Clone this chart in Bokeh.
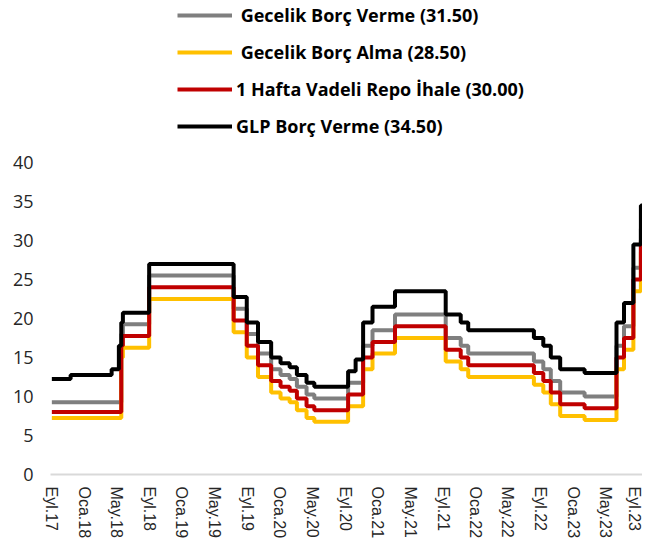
import pandas as pd
from bokeh.plotting import figure
from bokeh.layouts import column
from bokeh.models import Range1d, FixedTicker, Legend, LegendItem
from bokeh.embed import file_html
from bokeh.resources import INLINE

# ---- data (policy-rate step changes) ----
dates = ["2017-09-15", "2017-11-24", "2018-04-26", "2018-05-23", "2018-06-01",
         "2018-06-07", "2018-09-13", "2019-07-25", "2019-09-12", "2019-10-24",
         "2019-12-12", "2020-01-16", "2020-02-19", "2020-03-17", "2020-04-22",
         "2020-05-21", "2020-09-24", "2020-10-22", "2020-11-19", "2020-12-24",
         "2021-03-18", "2021-09-23", "2021-11-18", "2021-12-16", "2022-08-18",
         "2022-09-22", "2022-10-20", "2022-11-24", "2023-02-23", "2023-06-22",
         "2023-07-20", "2023-08-24", "2023-09-21", "2023-09-26"]

gecelik_borc_verme = [9.25, 9.25, 9.25, 9.25, 18.00, 19.25, 25.50, 21.25, 18.00, 15.50,
                      13.50, 12.75, 12.25, 11.25, 10.25, 9.75, 11.75, 11.75, 16.50, 18.50,
                      20.50, 17.50, 16.50, 15.50, 14.50, 13.50, 12.00, 10.50, 10.00, 16.50,
                      19.00, 26.50, 31.50, 31.50]

gecelik_borc_alma = [7.25, 7.25, 7.25, 7.25, 15.00, 16.25, 22.50, 18.25, 15.00, 12.50,
                     10.50, 9.75, 9.25, 8.25, 7.25, 6.75, 8.75, 8.75, 13.50, 15.50,
                     17.50, 14.50, 13.50, 12.50, 11.50, 10.50, 9.00, 7.50, 7.00, 13.50,
                     16.00, 23.50, 28.50, 28.50]

repo_ihale = [8.00, 8.00, 8.00, 8.00, 16.50, 17.75, 24.00, 19.75, 16.50, 14.00,
              12.00, 11.25, 10.75, 9.75, 8.75, 8.25, 10.25, 10.25, 15.00, 17.00,
              19.00, 16.00, 15.00, 14.00, 13.00, 12.00, 10.50, 9.00, 8.50, 15.00,
              17.50, 25.00, 30.00, 30.00]

glp_borc_verme = [12.25, 12.75, 13.50, 16.50, 19.50, 20.75, 27.00, 22.75, 19.50, 17.00,
                  15.00, 14.25, 13.75, 12.75, 11.75, 11.25, 13.25, 14.75, 19.50, 21.50,
                  23.50, 20.50, 19.50, 18.50, 17.50, 16.50, 15.00, 13.50, 13.00, 19.50,
                  22.00, 29.50, 34.50, 34.50]

series_names = ["\u00a0Gecelik Borç Verme (31.50)", "\u00a0Gecelik Borç Alma (28.50)",
                "1 Hafta Vadeli Repo İhale (30.00)", "GLP Borç Verme (34.50)"]
series_colors = ["#7f7f7f", "#ffc000", "#c00000", "#000000"]

tick_labels = ["Eyl.17", "Oca.18", "May.18", "Eyl.18", "Oca.19", "May.19", "Eyl.19",
               "Oca.20", "May.20", "Eyl.20", "Oca.21", "May.21", "Eyl.21", "Oca.22",
               "May.22", "Eyl.22", "Oca.23", "May.23", "Eyl.23"]

y_ticks = [0, 5, 10, 15, 20, 25, 30, 35, 40]

W = 642

# ---- main chart ----
x = pd.to_datetime(dates)

p = figure(x_axis_type="datetime", output_backend="svg", toolbar_location=None,
           frame_width=592, frame_height=312,
           min_border_left=50, min_border_right=0, min_border_top=12, min_border_bottom=65,
           x_range=Range1d(pd.Timestamp("2017-09-10"), pd.Timestamp("2023-09-27")),
           y_range=Range1d(0, 40))
p.outline_line_color = None
p.xgrid.visible = False
p.ygrid.visible = False

all_series = [gecelik_borc_verme, gecelik_borc_alma, repo_ihale, glp_borc_verme]
for vals, col in zip(all_series, series_colors):
    p.step(x, vals, mode="after", line_color=col, line_width=4)

tick_pos = []
overrides = {}
for i, lab in enumerate(tick_labels):
    m = 8 + 4 * i
    ts = pd.Timestamp(year=2017 + m // 12, month=m % 12 + 1, day=13)
    ms = float(ts.value // 10**6)
    tick_pos.append(ms)
    overrides[ms] = lab

xa = p.xaxis[0]
xa.ticker = FixedTicker(ticks=tick_pos)
xa.major_label_overrides = overrides
xa.major_label_orientation = "vertical"
xa.major_tick_line_color = None
xa.minor_tick_line_color = None
xa.major_tick_out = 0
xa.major_label_standoff = 12
xa.axis_line_color = "#d9d9d9"
xa.axis_line_width = 2
xa.major_label_text_font = "Liberation Sans"
xa.major_label_text_font_size = "16px"
xa.major_label_text_color = "#262626"

ya = p.yaxis[0]
ya.ticker = FixedTicker(ticks=y_ticks)
ya.axis_line_color = None
ya.major_tick_line_color = None
ya.minor_tick_line_color = None
ya.major_tick_out = 0
ya.major_label_standoff = 17
ya.major_label_text_font = "Open Sans"
ya.major_label_text_font_size = "18px"
ya.major_label_text_color = "#262626"

# ---- legend strip above the chart (frame is aligned with the chart's frame) ----
lg = figure(output_backend="svg", toolbar_location=None, width=W, height=150,
            min_border=0, x_range=Range1d(0, 10), y_range=Range1d(0, 10))
lg.axis.visible = False
lg.xgrid.visible = False
lg.ygrid.visible = False
lg.outline_line_color = None

# swatch renderers: their (dummy) points lie outside the visible range
swatches = [lg.line(x=[-5, -4], y=[-5, -5], line_color=c, line_width=4) for c in series_colors]
legend = Legend(items=[LegendItem(label=n, renderers=[r]) for n, r in zip(series_names, swatches)],
                location=(127, 12.5), orientation="vertical",
                glyph_width=55, glyph_height=20, label_height=20, spacing=13,
                padding=0, margin=0, label_standoff=4,
                border_line_alpha=0, background_fill_alpha=0,
                label_text_font="Open Sans", label_text_font_style="bold",
                label_text_font_size="18px", label_text_color="#000000")
lg.add_layout(legend)

layout = column(lg, p, spacing=0)
open("out.html", "w").write(file_html(layout, INLINE))
